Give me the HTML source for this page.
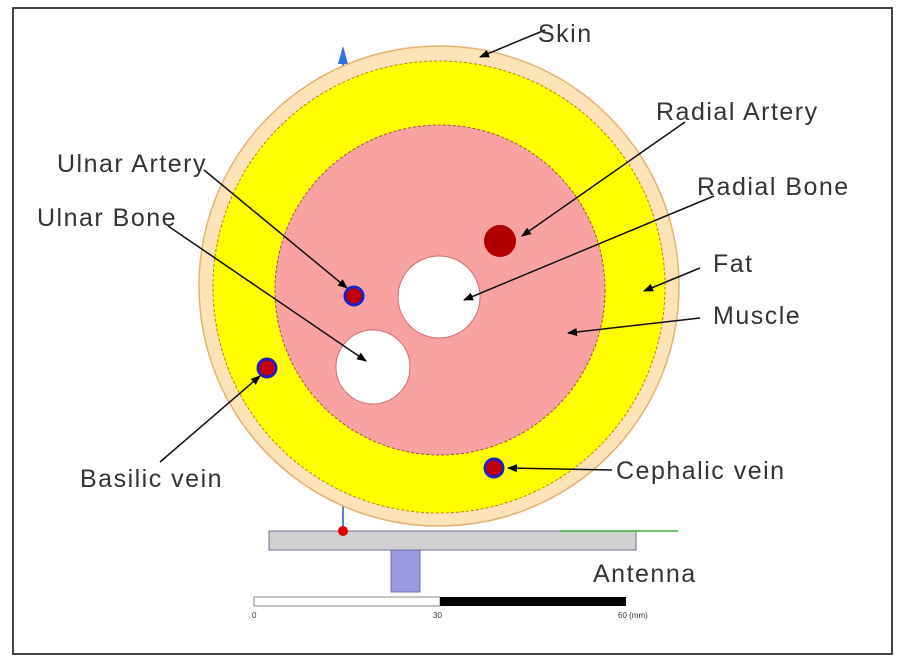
<!DOCTYPE html>
<html><head><meta charset="utf-8"><style>
html,body{margin:0;padding:0;background:#fff;width:900px;height:665px;overflow:hidden}
text{font-family:"Liberation Sans","DejaVu Sans",sans-serif;fill:#333}
.l{font-size:25px;letter-spacing:1.5px}
</style></head><body>
<svg width="900" height="665" viewBox="0 0 900 665" xmlns="http://www.w3.org/2000/svg">
<defs><marker id="a" markerWidth="10" markerHeight="8" refX="9" refY="4" orient="auto" markerUnits="userSpaceOnUse"><path d="M0,0 L10,4 L0,8 z" fill="#000"/></marker></defs>
<rect x="13" y="8" width="879" height="646" fill="#fff" stroke="#444" stroke-width="2"/>
<line x1="343" y1="530" x2="343" y2="60" stroke="#5080e0" stroke-width="2"/>
<path d="M338,64 L343,46 L348,64 z" fill="#3070e0"/>
<circle cx="439" cy="286" r="240" fill="#fce3b8" stroke="#e8b070" stroke-width="1.5"/>
<circle cx="439" cy="287" r="226" fill="#ffff00" stroke="#b8860b" stroke-width="1" stroke-dasharray="3,2"/>
<circle cx="440" cy="290" r="165" fill="#f8a2a2" stroke="#a05050" stroke-width="1" stroke-dasharray="3,2"/>
<circle cx="439" cy="297" r="41" fill="#fff" stroke="#d07070"/>
<circle cx="373" cy="367" r="37" fill="#fff" stroke="#d07070"/>
<circle cx="500" cy="241" r="16" fill="#b00000"/>
<circle cx="354" cy="296" r="9" fill="#c00000" stroke="#2020c0" stroke-width="3"/>
<circle cx="267" cy="368" r="9" fill="#c00000" stroke="#2020c0" stroke-width="3"/>
<circle cx="494" cy="468" r="9" fill="#c00000" stroke="#2020c0" stroke-width="3"/>
<rect x="269" y="531" width="367" height="19" fill="#d0d0d0" stroke="#707090"/>
<line x1="560" y1="531" x2="678" y2="531" stroke="#40b040" stroke-width="1.5"/>
<line x1="343" y1="520" x2="343" y2="530" stroke="#5080e0" stroke-width="2"/>
<circle cx="343" cy="531" r="5" fill="#e00000"/>
<rect x="391" y="550" width="29" height="42" fill="#9999dd" stroke="#7070b0"/>
<rect x="254" y="597" width="186" height="9" fill="#fff" stroke="#888"/>
<rect x="440" y="597" width="186" height="9" fill="#000"/>
<text x="252" y="618" font-size="8">0</text>
<text x="433" y="618" font-size="8">30</text>
<text x="618" y="618" font-size="8">60 (mm)</text>
<text x="593" y="582" class="l">Antenna</text>
<g stroke="#111" stroke-width="1.5" fill="none" marker-end="url(#a)">
<line x1="545" y1="30" x2="480" y2="57"/>
<line x1="685" y1="122" x2="522" y2="236"/>
<line x1="714" y1="196" x2="464" y2="300"/>
<line x1="700" y1="268" x2="644" y2="291"/>
<line x1="700" y1="318" x2="568" y2="333"/>
<line x1="204" y1="170" x2="347" y2="288"/>
<line x1="168" y1="226" x2="366" y2="361"/>
<line x1="160" y1="462" x2="260" y2="376"/>
<line x1="612" y1="470" x2="508" y2="468"/>
</g>
<text x="538" y="42" class="l">Skin</text>
<text x="656" y="120" class="l">Radial Artery</text>
<text x="697" y="195" class="l">Radial Bone</text>
<text x="713" y="272" class="l">Fat</text>
<text x="713" y="324" class="l">Muscle</text>
<text x="57" y="172" class="l">Ulnar Artery</text>
<text x="37" y="226" class="l">Ulnar Bone</text>
<text x="80" y="487" class="l">Basilic vein</text>
<text x="616" y="479" class="l">Cephalic vein</text>
</svg>
</body></html>
